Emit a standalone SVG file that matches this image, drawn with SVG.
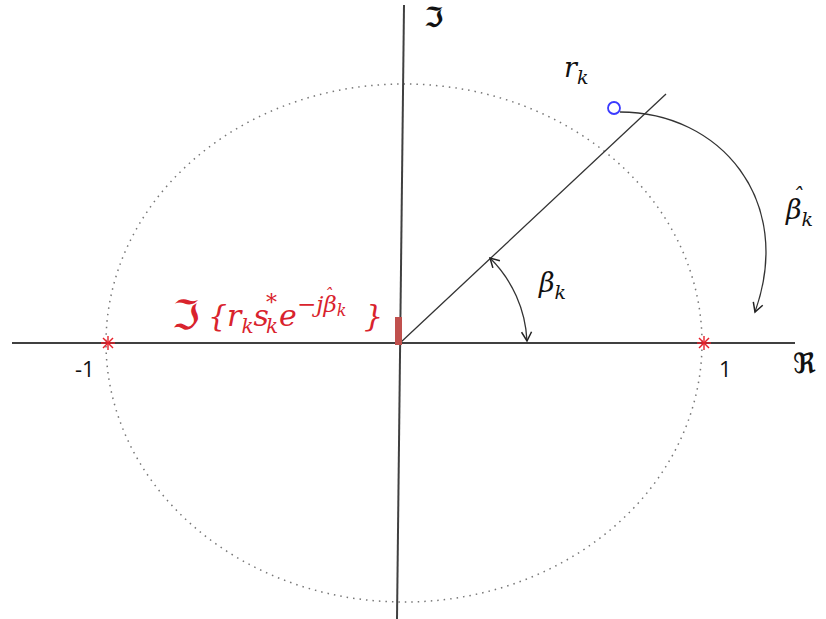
<svg xmlns="http://www.w3.org/2000/svg" width="826" height="619" viewBox="0 0 826 619">
<style>
.ax{stroke:#404040;stroke-width:2;fill:none}
.thin{stroke:#333;stroke-width:1.3;fill:none}
.m{font-family:"DejaVu Serif","Liberation Serif",serif;font-style:italic;fill:#111}
.num{font-family:"Open Sans","Liberation Sans",sans-serif;font-size:22px;fill:#111}
.fr{font-family:"DejaVu Sans","DejaVu Serif",serif;font-weight:bold;fill:#111}
.red{fill:#d9232d}
.star{stroke:#e8202a;stroke-width:1.4}
</style>
<defs>
<marker id="ah" viewBox="0 0 12 12" refX="10" refY="6" markerWidth="12" markerHeight="12" markerUnits="userSpaceOnUse" orient="auto-start-reverse">
<path d="M1,1 L10,6 L1,11" fill="none" stroke="#222" stroke-width="1.5"/>
</marker>
</defs>
<rect width="826" height="619" fill="#fff"/>
<g id="circle">
<ellipse cx="404" cy="343" rx="298" ry="259" fill="none" stroke="#777" stroke-width="1.5" stroke-dasharray="1.5 5"/>
</g>
<g id="connectors">
<line class="ax" x1="12" y1="343" x2="795" y2="343"/>
<line class="ax" x1="404" y1="5" x2="397" y2="619"/>
<line class="thin" x1="400" y1="343" x2="666" y2="94"/>
<path class="thin" d="M620,112 C720,112 795,200 755,312" marker-end="url(#ah)"/>
<path class="thin" d="M490,258 A125,125 0 0 1 527,341" marker-start="url(#ah)" marker-end="url(#ah)"/>
</g>
<g id="bar"><rect x="395" y="317" width="7" height="28" fill="#c0504d"/></g>
<g id="point"><circle cx="614" cy="108" r="6" fill="none" stroke="#3a3aff" stroke-width="1.8"/></g>
<g id="star-left" class="star">
<line x1="108" y1="336" x2="108" y2="350"/><line x1="101" y1="343" x2="115" y2="343"/>
<line x1="103" y1="338" x2="113" y2="348"/><line x1="103" y1="348" x2="113" y2="338"/>
</g>
<g id="star-right" class="star">
<line x1="704" y1="336" x2="704" y2="350"/><line x1="697" y1="343" x2="711" y2="343"/>
<line x1="699" y1="338" x2="709" y2="348"/><line x1="699" y1="348" x2="709" y2="338"/>
</g>
<g id="labels">
<text class="fr" x="424" y="27" font-size="28">ℑ</text>
<text class="fr" x="793" y="373" font-size="28">ℜ</text>
<text class="num" x="75" y="377">-1</text>
<text class="num" x="719" y="377">1</text>
<text class="m" x="564" y="77" font-size="27">r<tspan font-size="19" dy="7">k</tspan></text>
<text class="m" x="539" y="292" font-size="27">β<tspan font-size="19" dy="7">k</tspan></text>
<text class="m" x="786" y="219" font-size="27">β<tspan font-size="19" dy="7">k</tspan></text>
<text class="m" x="792" y="204" font-size="22">ˆ</text>
</g>
<g id="red-label">
<text class="red" x="172" y="329" font-size="40" style="font-family:'DejaVu Sans',serif;font-weight:normal">ℑ</text>
<text class="m red" x="208" y="326" font-size="30">{r<tspan font-size="20" dy="7">k</tspan><tspan dy="-7">s</tspan></text>
<text class="m red" x="266" y="310" font-size="22">*</text>
<text class="m red" x="266" y="333" font-size="20">k</text>
<text class="m red" x="279" y="326" font-size="30">e</text>
<text class="m red" x="297" y="312" font-size="23">−jβ<tspan font-size="16" dy="4">k</tspan></text>
<text class="m red" x="324" y="300" font-size="17">ˆ</text>
<text class="m red" x="364" y="326" font-size="30">}</text>
</g>
</svg>
